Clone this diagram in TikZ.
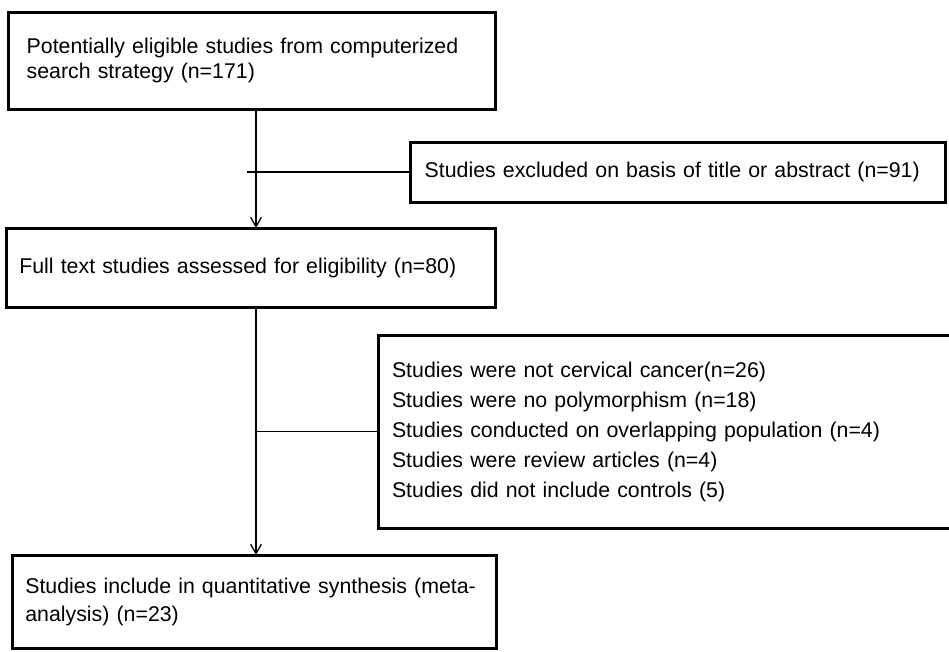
\documentclass[tikz,border=0pt]{standalone}
\usepackage{fontspec}
\setmainfont{Liberation Sans}
\usetikzlibrary{arrows.meta}

\tikzset{
  flowbox/.style={draw, line width=2.25pt, outer sep=0pt, align=left, anchor=north west, inner ysep=0pt, font=\fontsize{16}{19}\selectfont},
  flowline/.style={line width=1pt},
  flowarrow/.style={flowline, -{Straight Barb[length=7pt,width=8pt]}}
}

\begin{document}
\begin{tikzpicture}[x=0.75pt,y=0.75pt,yscale=-1,xscale=1]
    \useasboundingbox (0,0) rectangle (949,651); %set diagram to 949 x 651

    %Shape: Rectangle [id:search]
    \node [flowbox, inner xsep=14pt, text width=337.25pt, minimum height=72.75pt] (search) at (8,12) {Potentially eligible studies from computerized\\search strategy (n=171)};
    %Shape: Rectangle [id:excludedTitle]
    \node [flowbox, inner xsep=11pt, text width=379.25pt, minimum height=45pt] (excludedTitle) at (410,142) {Studies excluded on basis of title or abstract (n=91)};
    %Shape: Rectangle [id:fulltext]
    \node [flowbox, inner xsep=10pt, text width=346.75pt, minimum height=59.25pt] (fulltext) at (6,228) {Full text studies assessed for eligibility (n=80)};
    %Shape: Rectangle [id:excludedFull]
    \node [flowbox, inner xsep=10.5pt, text width=415.5pt, minimum height=144.75pt, font=\fontsize{16}{22.5}\selectfont] (excludedFull) at (378,335) {Studies were not cervical cancer(n=26)\\Studies were no polymorphism (n=18)\\Studies conducted on overlapping population (n=4)\\Studies were review articles (n=4)\\Studies did not include controls (5)};
    %Shape: Rectangle [id:included]
    \node [flowbox, inner xsep=10pt, text width=343pt, minimum height=69.75pt, font=\fontsize{16}{21}\selectfont] (included) at (12,555) {Studies include in quantitative synthesis (meta-\\analysis) (n=23)};

    %Straight Lines [id:trunkA]
    \coordinate (topA) at (256,109);
    \coordinate (endA) at (256,228);
    \draw [flowarrow] (topA) -- (endA);
    %Straight Lines [id:branchA]
    \coordinate (branchA) at (247,172);
    \draw [flowline] (branchA) -- (excludedTitle.west);
    %Straight Lines [id:trunkB]
    \coordinate (topB) at (256,307);
    \coordinate (endB) at (256,555);
    \draw [flowarrow] (topB) -- (endB);
    %Straight Lines [id:branchB]
    \coordinate (branchB) at (255,431.5);
    \draw [flowline] (branchB) -- (excludedFull.west);

\end{tikzpicture}
\end{document}
